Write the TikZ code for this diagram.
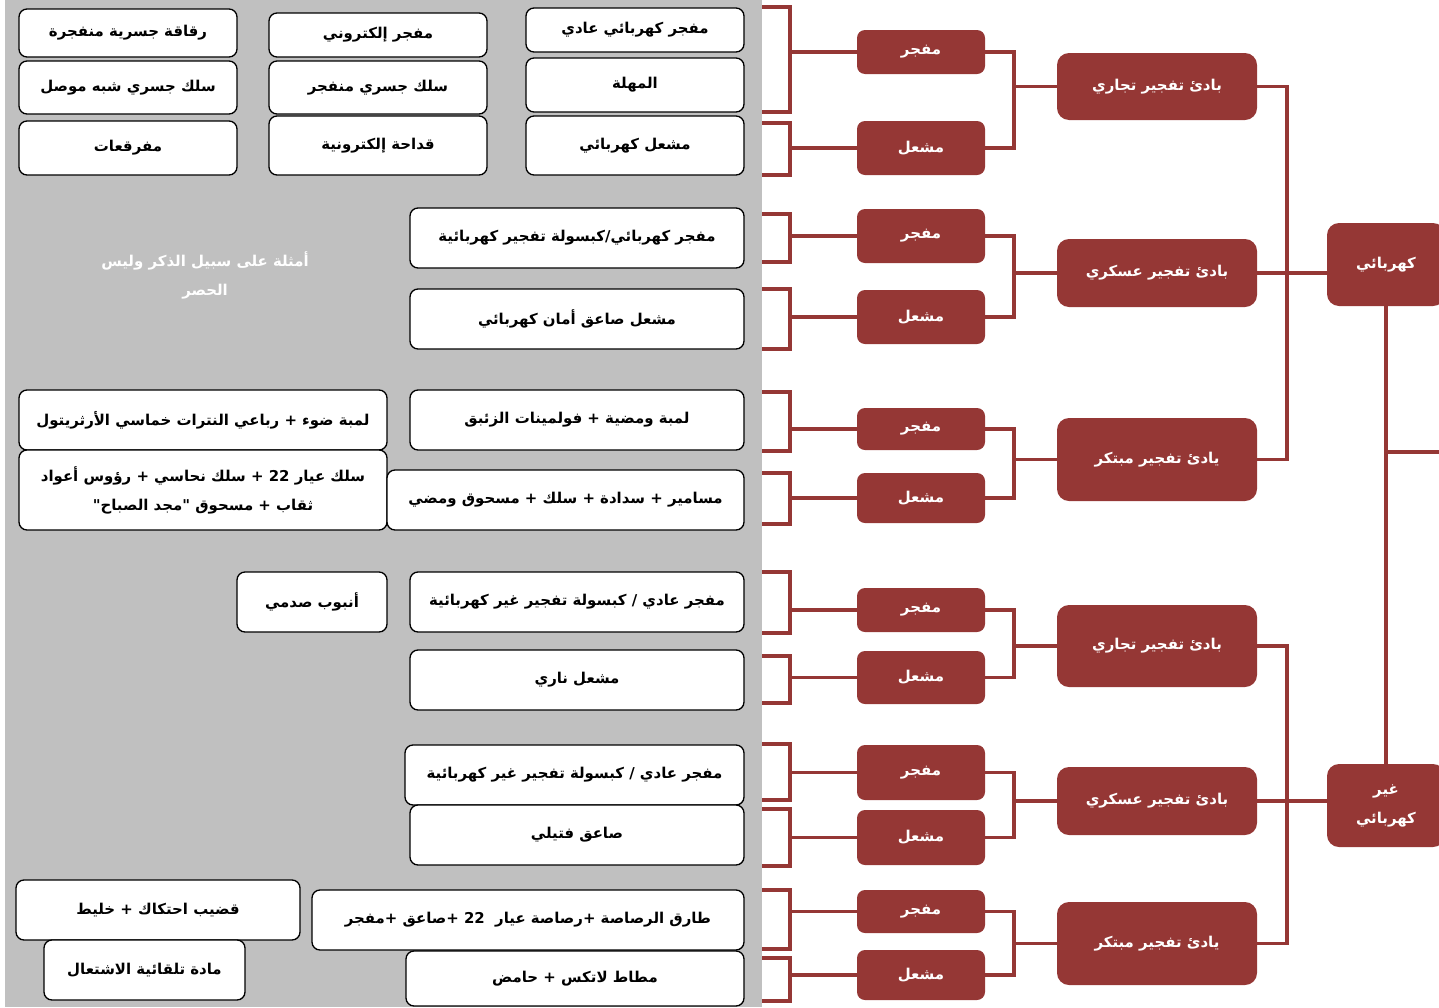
\documentclass[tikz,border=0pt]{standalone}
\usepackage{fontspec}
\newfontfamily\arabicfont[Script=Arabic]{DejaVu Sans}
\TeXXeTstate=1
\definecolor{darkred}{RGB}{149,55,53}
\definecolor{panelgray}{RGB}{192,192,192}
\newcommand{\artxt}[1]{\beginR #1\endR}

\begin{document}
\begin{tikzpicture}[
		x=0.75pt, y=-0.75pt,
		every node/.style={font=\arabicfont\bfseries\fontsize{11.2}{21.75}\selectfont, inner sep=0pt, outer sep=0pt, align=center},
		wbox/.style 2 args={draw=black, line width=1pt, fill=white, rounded corners=6pt, minimum width={#1*0.75pt}, minimum height={#2*0.75pt}},
		rbox/.style 2 args={fill=darkred, text=white, rounded corners=6pt, minimum width={#1*0.75pt}, minimum height={#2*0.75pt}},
		link/.style={draw=darkred, line width=2.4pt}
	]
	\useasboundingbox (0,0) rectangle (1439,1007);

	% examples
	\fill[panelgray] (5,0) rectangle (762,1007);
	\node[wbox={218}{48}] (a1) at (128,33) {\artxt{رقاقة جسرية منفجرة}};
	\node[wbox={218}{53}] (a2) at (128,87.5) {\artxt{سلك جسري شبه موصل}};
	\node[wbox={218}{54}] (a3) at (128,148) {\artxt{مفرقعات}};
	\node[wbox={218}{44}] (b1) at (378,35) {\artxt{مفجر إلكتروني}};
	\node[wbox={218}{53}] (b2) at (378,87.5) {\artxt{سلك جسري منفجر}};
	\node[wbox={218}{59}] (b3) at (378,145.5) {\artxt{قداحة إلكترونية}};
	\node[wbox={218}{44}] (c1) at (635,30) {\artxt{مفجر كهربائي عادي}};
	\node[wbox={218}{54}] (c2) at (635,85) {\artxt{المهلة}};
	\node[wbox={218}{59}] (c3) at (635,145.5) {\artxt{مشعل كهربائي}};

	\node[wbox={334}{60}] (d1) at (577,238) {\artxt{مفجر كهربائي/كبسولة تفجير كهربائية}};
	\node[wbox={334}{60}] (d2) at (577,319) {\artxt{مشعل صاعق أمان كهربائي}};
	\node[text=white] (note) at (205,275.5) {\artxt{أمثلة على سبيل الذكر وليس}\\\artxt{الحصر}};

	\node[wbox={368}{60}] (f1) at (203,420) {\artxt{لمبة ضوء + رباعي النترات خماسي الأرثريتول}};
	\node[wbox={368}{80}] (f2) at (203,490) {\artxt{سلك عيار 22 + سلك نحاسي + رؤوس أعواد}\\\artxt{ثقاب + مسحوق "مجد الصباح"}};
	\node[wbox={334}{60}] (e1) at (577,420) {\artxt{لمبة ومضية + فولمينات الزئبق}};
	\node[wbox={357}{60}] (e2) at (565.5,500) {\artxt{مسامير + سدادة + سلك + مسحوق ومضي}};

	\node[wbox={150}{60}] (h1) at (312,602) {\artxt{أنبوب صدمي}};
	\node[wbox={334}{60}] (g1) at (577,602) {\artxt{مفجر عادي / كبسولة تفجير غير كهربائية}};
	\node[wbox={334}{60}] (g2) at (577,680) {\artxt{مشعل ناري}};

	\node[wbox={339}{60}] (i1) at (574.5,775) {\artxt{مفجر عادي / كبسولة تفجير غير كهربائية}};
	\node[wbox={334}{60}] (i2) at (577,835) {\artxt{صاعق فتيلي}};

	\node[wbox={284}{60}] (k1) at (158,910) {\artxt{قضيب احتكاك + خليط}};
	\node[wbox={201}{60}] (k2) at (144.5,970) {\artxt{مادة تلقائية الاشتعال}};
	\node[wbox={432}{60}] (j1) at (528,920) {\artxt{طارق الرصاصة +رصاصة عيار \ 22 +صاعق +مفجر}};
	\node[wbox={338}{55}] (j2) at (575,978.5) {\artxt{مطاط لاتكس + حامض}};

	% components
	\node[rbox={128}{44}] (m1) at (921,52) {\artxt{مفجر}};
	\node[rbox={128}{54}] (m2) at (921,148) {\artxt{مشعل}};
	\node[rbox={128}{54}] (m3) at (921,236) {\artxt{مفجر}};
	\node[rbox={128}{54}] (m4) at (921,317) {\artxt{مشعل}};
	\node[rbox={128}{42}] (m5) at (921,429) {\artxt{مفجر}};
	\node[rbox={128}{50}] (m6) at (921,498) {\artxt{مشعل}};
	\node[rbox={128}{44}] (m7) at (921,610) {\artxt{مفجر}};
	\node[rbox={128}{53}] (m8) at (921,677.5) {\artxt{مشعل}};
	\node[rbox={128}{55}] (m9) at (921,772.5) {\artxt{مفجر}};
	\node[rbox={128}{55}] (m10) at (921,837.5) {\artxt{مشعل}};
	\node[rbox={128}{43}] (m11) at (921,911.5) {\artxt{مفجر}};
	\node[rbox={128}{50}] (m12) at (921,975) {\artxt{مشعل}};

	% initiators
	\node[rbox={200}{67}, rounded corners=9pt] (t1) at (1157,86.5) {\artxt{بادئ تفجير تجاري}};
	\node[rbox={200}{68}, rounded corners=9pt] (s1) at (1157,273) {\artxt{بادئ تفجير عسكري}};
	\node[rbox={200}{83}, rounded corners=9pt] (p1) at (1157,459.5) {\artxt{يادئ تفجير مبتكر}};
	\node[rbox={200}{82}, rounded corners=9pt] (t2) at (1157,646) {\artxt{بادئ تفجير تجاري}};
	\node[rbox={200}{68}, rounded corners=9pt] (s2) at (1157,801) {\artxt{بادئ تفجير عسكري}};
	\node[rbox={200}{83}, rounded corners=9pt] (p2) at (1157,943.5) {\artxt{يادئ تفجير مبتكر}};

	% types
	\node[rbox={118}{83}, rounded corners=9pt] (el) at (1386,264.5) {\artxt{كهربائي}};
	\node[rbox={118}{83}, rounded corners=9pt] (ne) at (1386,805.5) {\artxt{غير}\\\artxt{كهربائي}};

	% links
	\coordinate (bx) at (790,0);
	\coordinate (mx) at (1014,0);
	\coordinate (tx) at (1287,0);
	\coordinate (root) at (1445,452);
	\foreach \m/\t/\b in {m1/7/112, m2/123/175, m3/214/262, m4/289/349,
			m5/392/451, m6/473/524, m7/572/633, m8/656/703,
			m9/744/800, m10/809/866, m11/890/949, m12/958/1001} {
			\coordinate (\m-t) at (762,\t);
			\coordinate (\m-b) at (762,\b);
			\draw[link] (\m-t) -| (\m.west -| bx) |- (\m-b);
			\draw[link] (\m.west -| bx) -- (\m.west);
		}
	\foreach \u/\l/\p in {m1/m2/t1, m3/m4/s1, m5/m6/p1, m7/m8/t2, m9/m10/s2, m11/m12/p2} {
			\draw[link] (\u.east) -| (\l.east -| mx) -- (\l.east);
			\draw[link] (\u.east -| mx) |- (\p.west);
		}
	\draw[link] (t1.east) -| (p1.east -| tx) -- (p1.east);
	\draw[link] (s1.east) -- (s1.east -| el.west);
	\draw[link] (t2.east) -| (p2.east -| tx) -- (p2.east);
	\draw[link] (s2.east) -- (s2.east -| ne.west);
	\draw[link] (el.south) -- (ne.north);
	\draw[link] (el.south |- root) -- (root);
\end{tikzpicture}
\end{document}
